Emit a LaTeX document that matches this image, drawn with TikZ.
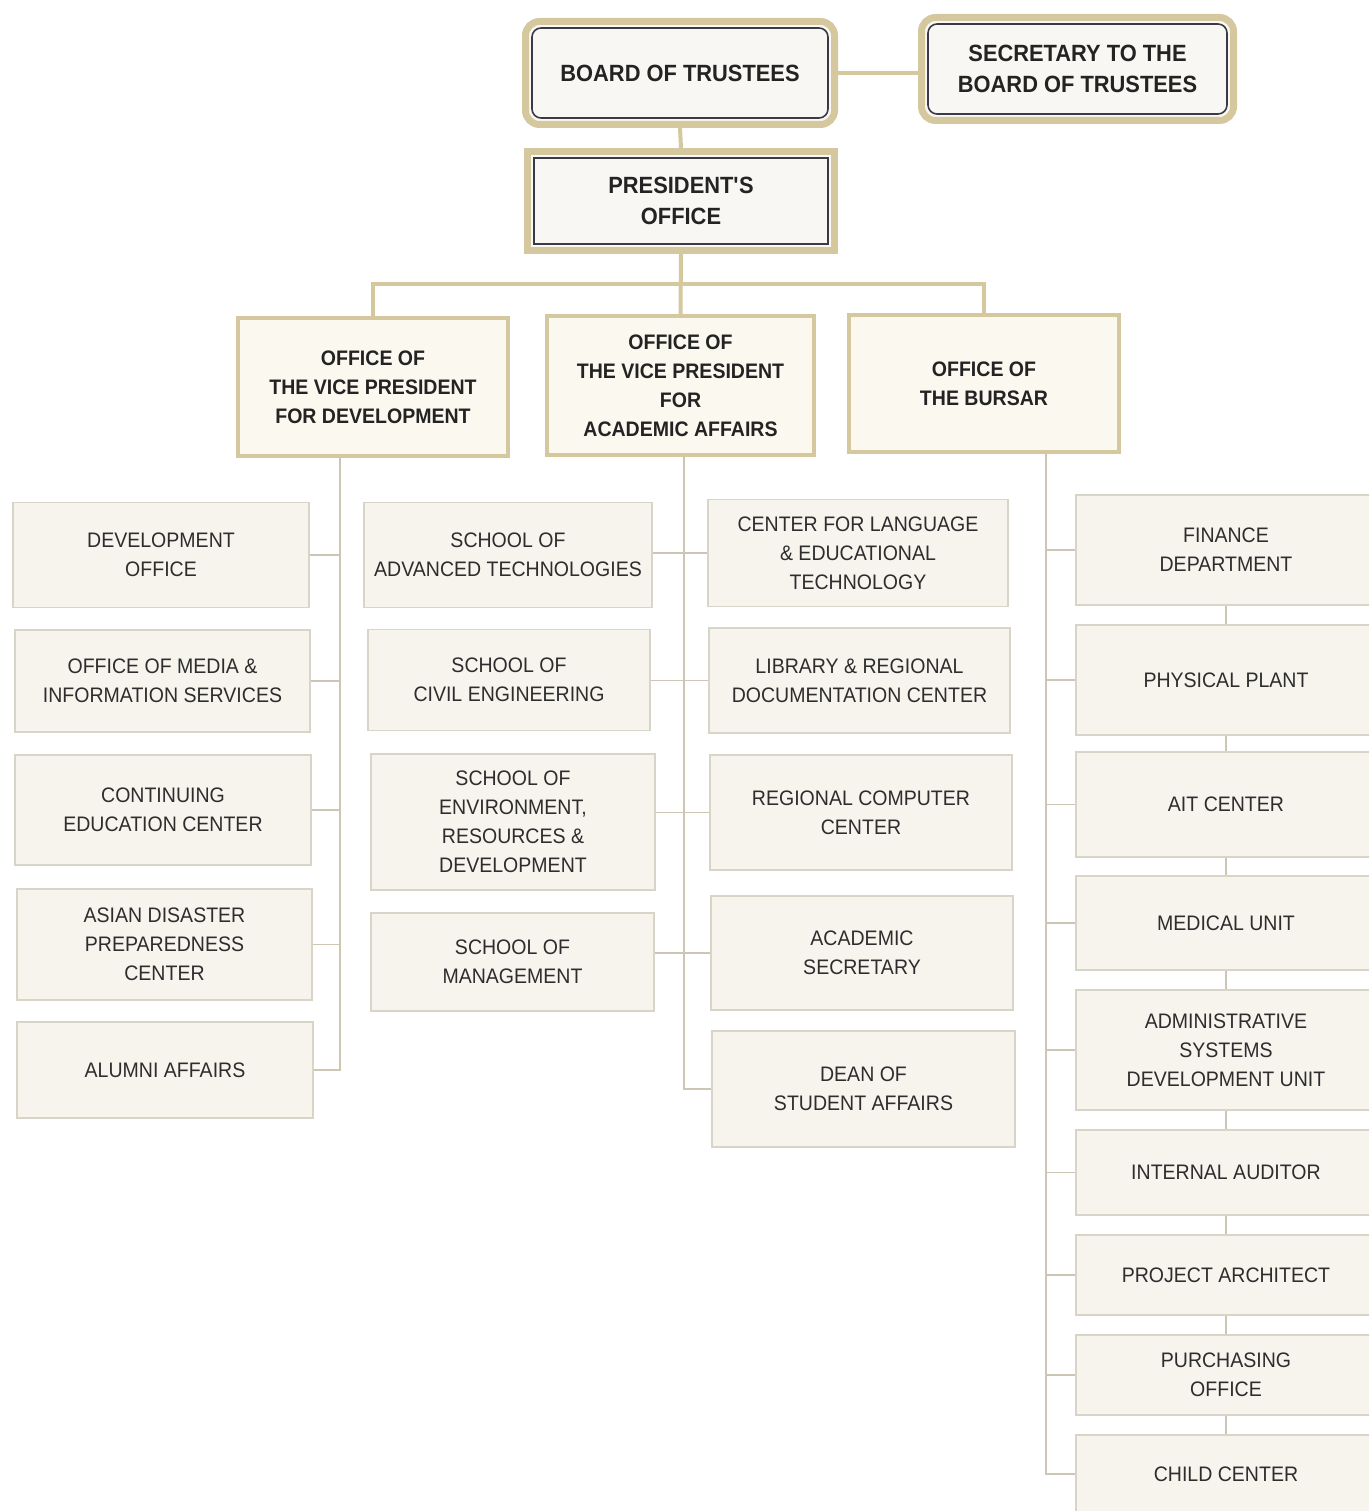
\documentclass[tikz,border=0pt]{standalone}
\usepackage{fontspec}
\setmainfont{Liberation Sans}[FakeStretch=0.93]
\definecolor{gold}{RGB}{213,199,158}
\definecolor{thinline}{RGB}{204,199,180}
\definecolor{sboxline}{RGB}{216,212,200}
\definecolor{sboxfill}{RGB}{247,244,238}
\definecolor{vpfill}{RGB}{251,248,239}
\definecolor{framefill}{RGB}{250,248,242}
\definecolor{innerfill}{RGB}{248,247,244}
\definecolor{dark}{RGB}{58,58,70}
\definecolor{txt}{RGB}{45,45,45}
\definecolor{txtd}{RGB}{35,35,35}
\begin{document}
\begin{tikzpicture}[x=1pt,y=-1pt,
  gline/.style={draw=gold, line width=4pt},
  tline/.style={draw=thinline, line width=1.8pt},
  sbox/.style={draw=sboxline, line width=1.6pt, fill=sboxfill, inner sep=0pt, align=center, text=txt, font=\fontsize{21}{29}\selectfont},
  vpbox/.style={draw=gold, line width=4pt, fill=vpfill, inner sep=0pt, align=center, text=txtd, font=\bfseries\fontsize{21}{29}\selectfont},
  frameR/.style={draw=gold, line width=7pt, fill=framefill, rounded corners=14pt, inner sep=0pt},
  frameS/.style={draw=gold, line width=7pt, fill=framefill, inner sep=0pt},
  innerR/.style={draw=dark, line width=1.6pt, fill=innerfill, rounded corners=9pt, inner sep=0pt, align=center, text=txtd, font=\bfseries\fontsize{23.5}{31}\selectfont},
  innerS/.style={draw=dark, line width=1.6pt, fill=innerfill, inner sep=0pt, align=center, text=txtd, font=\bfseries\fontsize{23.5}{31}\selectfont}
]
\fill[white] (0,0) rectangle (1368,1511);
\useasboundingbox (0,0) rectangle (1368,1511);

% top level
\node[frameR, minimum width=309pt, minimum height=103pt] (boardframe) at (680,73) {};
\node[innerR, minimum width=296pt, minimum height=90pt] (board) at (680,73) {BOARD OF TRUSTEES};
\node[frameR, minimum width=312pt, minimum height=103pt] (secframe) at (1077.5,69) {};
\node[innerR, minimum width=299pt, minimum height=90pt] (sec) at (1077.5,69) {SECRETARY TO THE\\BOARD OF TRUSTEES};
\node[frameS, minimum width=307pt, minimum height=99pt] (presframe) at (681,201) {};
\node[innerS, minimum width=294pt, minimum height=86pt] (pres) at (681,201) {PRESIDENT\textquotesingle S\\OFFICE};

\draw[gline] (boardframe.east) -- (boardframe.east -| secframe.west);
\draw[gline] (boardframe.south) -- (presframe.north);

% VP level
\node[vpbox, minimum width=270pt, minimum height=138pt] (vpdev) at (373,387) {OFFICE OF\\THE VICE PRESIDENT\\FOR DEVELOPMENT};
\node[vpbox, minimum width=267pt, minimum height=139pt] (vpacad) at (680.5,385.5) {OFFICE OF\\THE VICE PRESIDENT\\FOR\\ACADEMIC AFFAIRS};
\node[vpbox, minimum width=270pt, minimum height=137pt] (bursar) at (984,383.5) {OFFICE OF\\THE BURSAR};

\coordinate (bus) at (681,284);
\draw[gline] (presframe.south) -- (vpacad.north);
\draw[gline] (vpdev.north) -- (vpdev.north |- bus) -- (bursar.north |- bus) -- (bursar.north);

% development column
\node[sbox, minimum width=296pt, minimum height=105pt] (devoff) at (161,555) {DEVELOPMENT\\OFFICE};
\node[sbox, minimum width=295pt, minimum height=102pt] (media) at (162.5,681) {OFFICE OF MEDIA \&\\INFORMATION SERVICES};
\node[sbox, minimum width=296pt, minimum height=110pt] (cont) at (163,810) {CONTINUING\\EDUCATION CENTER};
\node[sbox, minimum width=295pt, minimum height=111pt] (asian) at (164.5,944.5) {ASIAN DISASTER\\PREPAREDNESS\\CENTER};
\node[sbox, minimum width=296pt, minimum height=96pt] (alumni) at (165,1070) {ALUMNI AFFAIRS};

\coordinate (jdev) at (340,1070);
\draw[tline] (vpdev.south -| jdev) -- (jdev) -- (alumni.east);
\foreach \n in {devoff,media,cont,asian}
  \draw[tline] (\n.east) -- (\n.east -| jdev);

% academic column
\node[sbox, minimum width=288pt, minimum height=105pt] (adv) at (508,555) {SCHOOL OF\\ADVANCED TECHNOLOGIES};
\node[sbox, minimum width=282pt, minimum height=101pt] (civil) at (509,680) {SCHOOL OF\\CIVIL ENGINEERING};
\node[sbox, minimum width=284pt, minimum height=136pt] (env) at (513,822) {SCHOOL OF\\ENVIRONMENT,\\RESOURCES \&\\DEVELOPMENT};
\node[sbox, minimum width=283pt, minimum height=98pt] (mgmt) at (512.5,962) {SCHOOL OF\\MANAGEMENT};

\node[sbox, minimum width=300pt, minimum height=107pt] (clet) at (858,553) {CENTER FOR LANGUAGE\\\& EDUCATIONAL\\TECHNOLOGY};
\node[sbox, minimum width=301pt, minimum height=105pt] (lib) at (859.5,680.5) {LIBRARY \& REGIONAL\\DOCUMENTATION CENTER};
\node[sbox, minimum width=302pt, minimum height=115pt] (comp) at (861,812.5) {REGIONAL COMPUTER\\CENTER};
\node[sbox, minimum width=302pt, minimum height=114pt] (acsec) at (862,953) {ACADEMIC\\SECRETARY};
\node[sbox, minimum width=303pt, minimum height=116pt] (dean) at (863.5,1089) {DEAN OF\\STUDENT AFFAIRS};

\coordinate (jacad) at (684,1089);
\draw[tline] (vpacad.south -| jacad) -- (jacad) -- (dean.west);
\draw[tline] (adv.east |- clet.west) -- (clet.west);
\draw[tline] (civil.east |- lib.west) -- (lib.west);
\draw[tline] (env.east |- comp.west) -- (comp.west);
\draw[tline] (mgmt.east |- acsec.west) -- (acsec.west);

% bursar column
\node[sbox, minimum width=300pt, minimum height=110pt] (fin) at (1226,550) {FINANCE\\DEPARTMENT};
\node[sbox, minimum width=300pt, minimum height=110pt] (phys) at (1226,680) {PHYSICAL PLANT};
\node[sbox, minimum width=300pt, minimum height=105pt] (ait) at (1226,804.5) {AIT CENTER};
\node[sbox, minimum width=300pt, minimum height=94pt] (med) at (1226,923) {MEDICAL UNIT};
\node[sbox, minimum width=300pt, minimum height=120pt] (adm) at (1226,1050) {ADMINISTRATIVE\\SYSTEMS\\DEVELOPMENT UNIT};
\node[sbox, minimum width=300pt, minimum height=85pt] (aud) at (1226,1172.5) {INTERNAL AUDITOR};
\node[sbox, minimum width=300pt, minimum height=80pt] (proj) at (1226,1275) {PROJECT ARCHITECT};
\node[sbox, minimum width=300pt, minimum height=80pt] (purch) at (1226,1375) {PURCHASING\\OFFICE};
\node[sbox, minimum width=300pt, minimum height=78pt] (child) at (1226,1474) {CHILD CENTER};

\coordinate (jbur) at (1046,1474);
\draw[tline] (bursar.south -| jbur) -- (jbur) -- (child.west);
\foreach \n in {fin,phys,ait,med,adm,aud,proj,purch}
  \draw[tline] (\n.west) -- (\n.west -| jbur);
\draw[tline] (fin.south) -- (phys.north);
\draw[tline] (phys.south) -- (ait.north);
\draw[tline] (ait.south) -- (med.north);
\draw[tline] (med.south) -- (adm.north);
\draw[tline] (adm.south) -- (aud.north);
\draw[tline] (aud.south) -- (proj.north);
\draw[tline] (proj.south) -- (purch.north);
\draw[tline] (purch.south) -- (child.north);
\end{tikzpicture}
\end{document}
